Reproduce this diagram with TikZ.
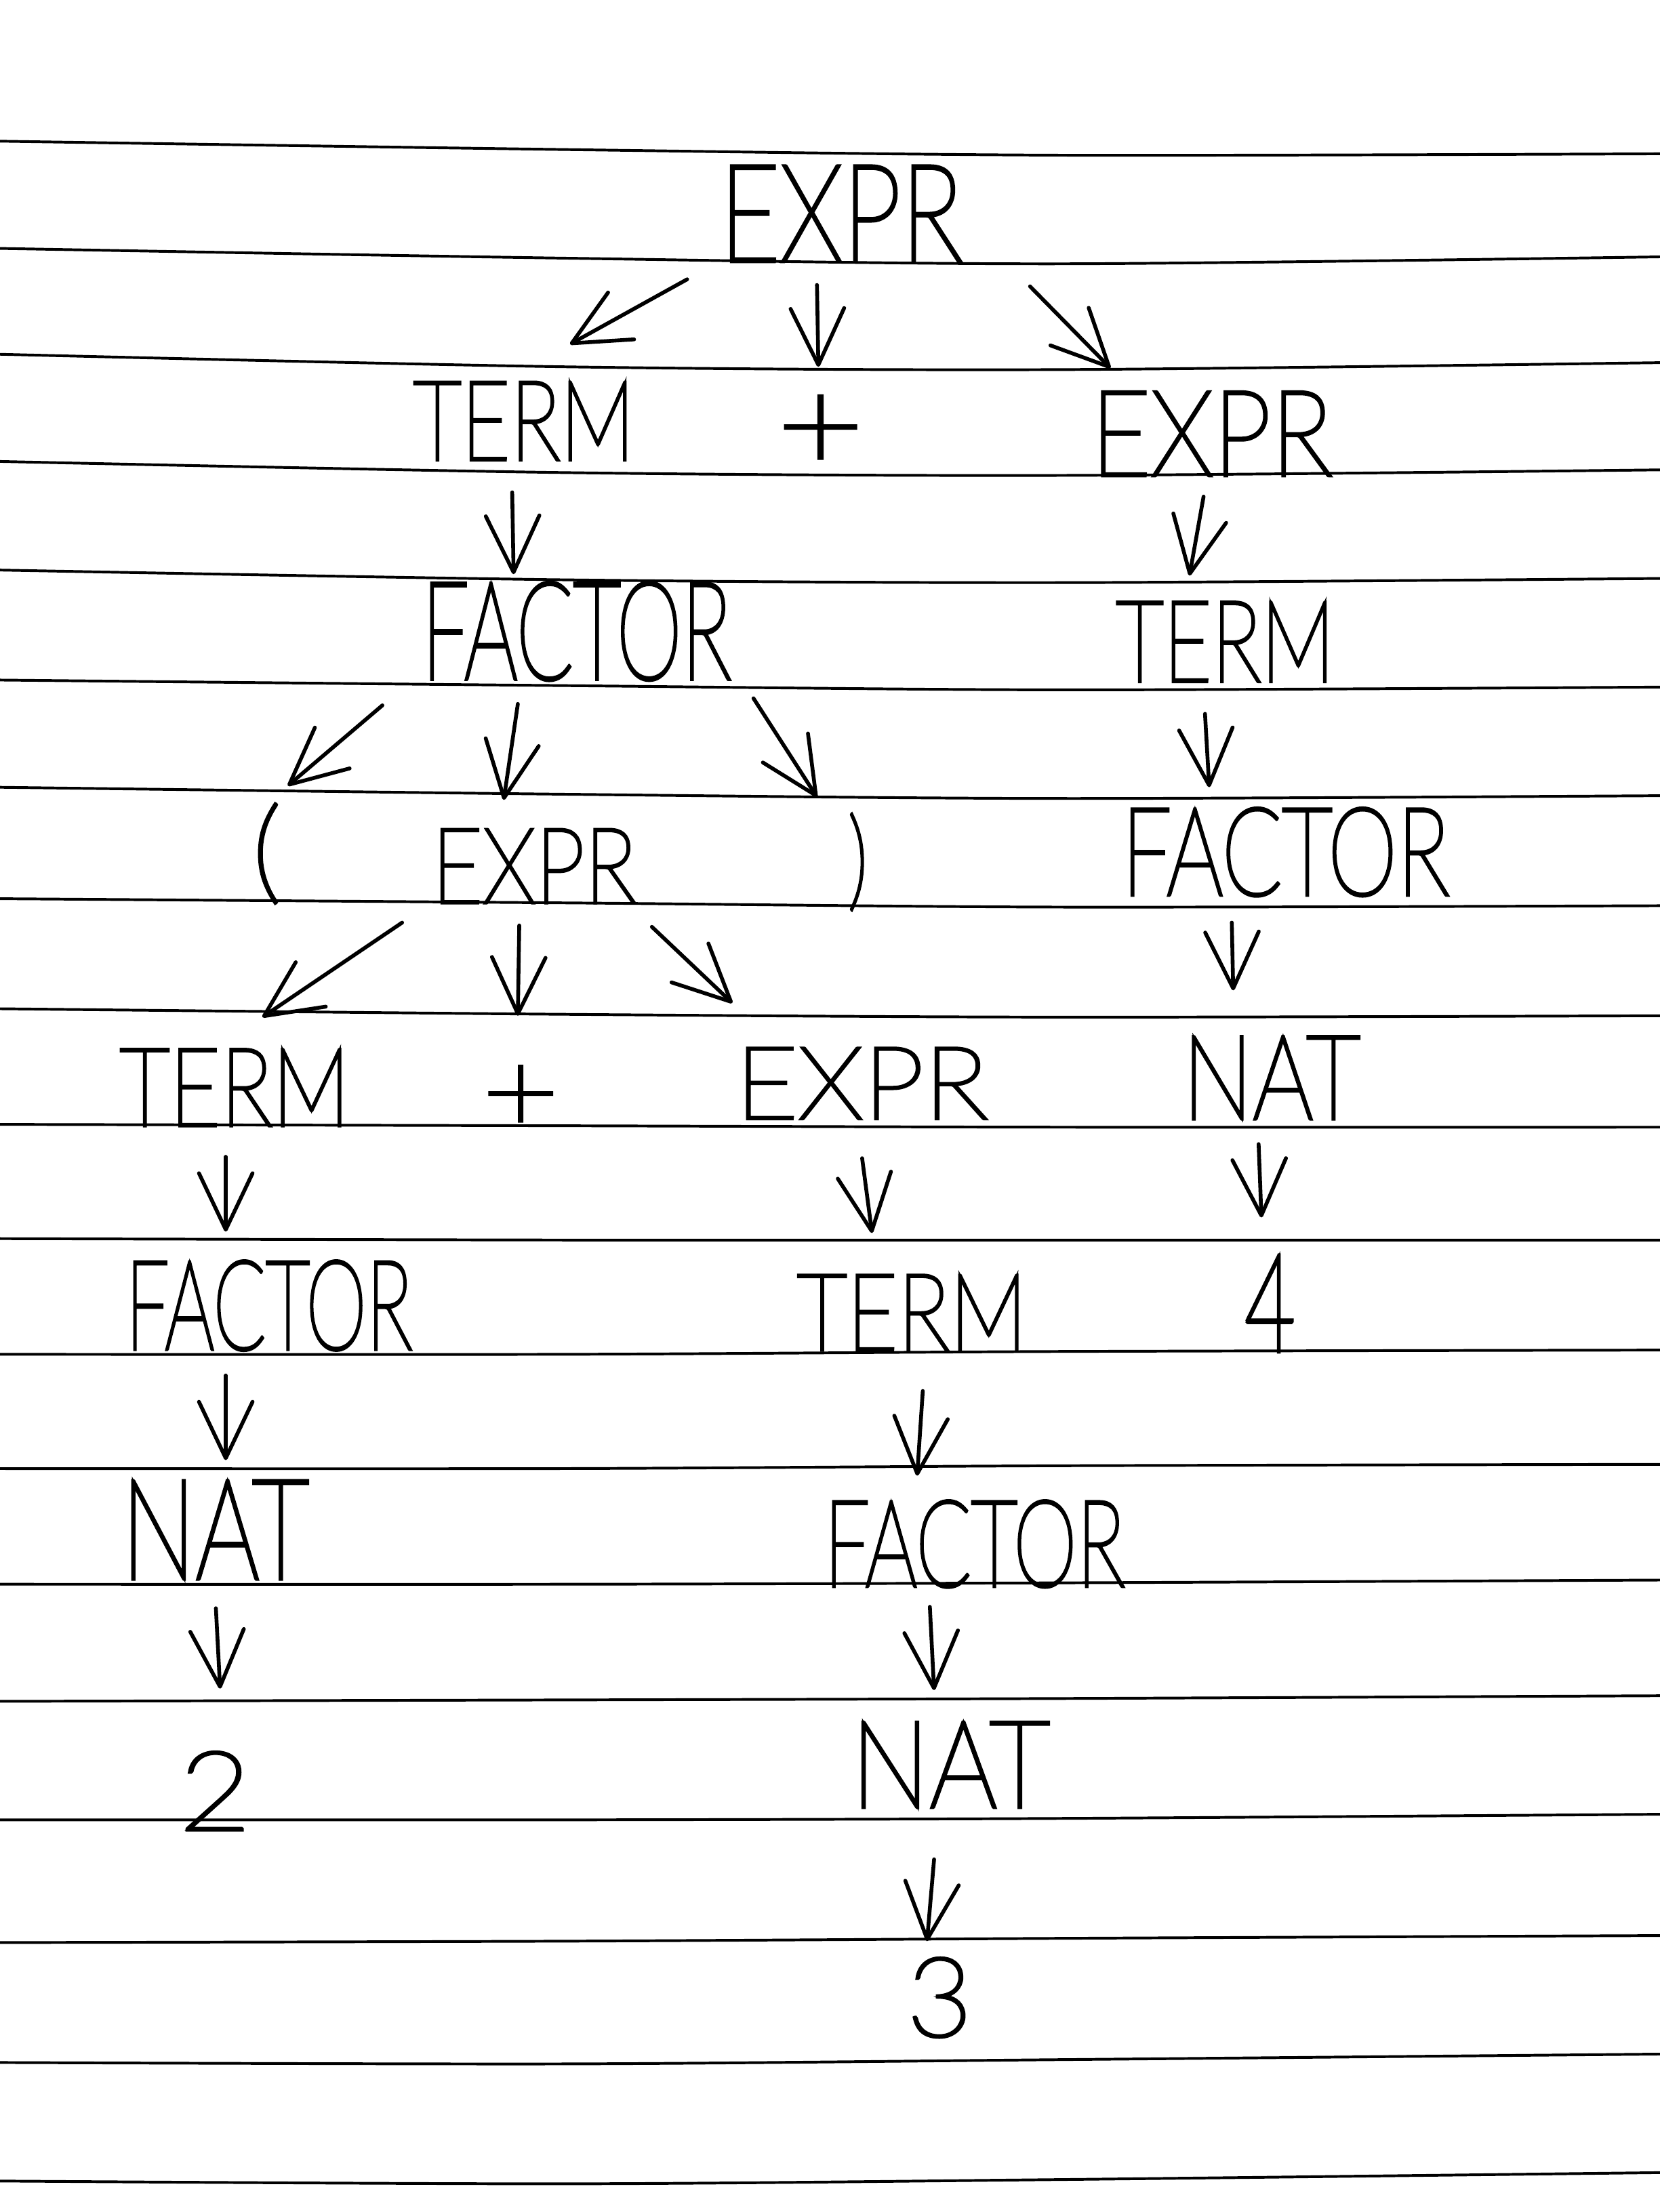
\documentclass[tikz,border=0pt]{standalone}
\usepackage{fontspec}
\usepackage{graphicx}
\usetikzlibrary{arrows.meta}
\IfFontExistsTF{Lato Thin}{\newfontfamily\hand{Lato Thin}[FakeBold=3.2]}{%
 \IfFontExistsTF{Lato Light}{\newfontfamily\hand{Lato Light}}{%
  \IfFontExistsTF{Fira Sans Light}{\newfontfamily\hand{Fira Sans Light}}{%
   \newfontfamily\hand{DejaVu Sans}}}}
\newcommand\fitw[3]{\resizebox*{#1pt}{#2pt}{#3}}
\newcommand\hconn[4]{\draw[harrow] ([shift={(#2)}]#1.center) -- ([shift={(#4)}]#3.center);}
\begin{document}
\begin{tikzpicture}[x=1pt,y=-1pt,
  rule/.style={line width=1.9pt, black},
  hw/.style={inner sep=0pt, outer sep=0pt, font=\hand\fontsize{72}{80}\selectfont},
  harrow/.style={line width=2.7pt, line cap=round, line join=round,
    -{Straight Barb[length=40pt,width=38pt,round]}}]
\useasboundingbox (0,0) rectangle (1176,1568);
\fill[white] (0,0) rectangle (1176,1568);

% ruled paper
\foreach \a/\b/\c/\d in {100/106/110/109, 176/183/187/182, 251/260/262/257,
  327/335/337/333, 404/411/413/410, 482/486/489/487, 558/563/566/564,
  637/640/643/642, 715/719/721/720, 797/798/799/799, 878/879/879/879,
  960/960/958/957, 1041/1041/1039/1038, 1123/1123/1122/1120,
  1206/1205/1204/1202, 1290/1290/1289/1286, 1377/1376/1374/1372,
  1462/1463/1460/1456, 1546/1548/1545/1540}
  \draw[rule] plot[smooth] coordinates {(-5,\a) (400,\b) (750,\c) (1181,\d)};

% words
\node[hw] (e0) at (596,151.5) {\fitw{172}{67}{EXPR}};
\node[hw] (t1) at (371.5,298.5) {\fitw{157}{55}{TERM}};
\node[hw] (plus1) at (581.5,307) {\fitw{61}{52}{+}};
\node[hw] (e1) at (858.5,307.5) {\fitw{171}{59}{EXPR}};
\node[hw] (f1) at (408.5,447.5) {\fitw{219}{69}{FACTOR}};
\node[hw] (t2) at (868.5,455) {\fitw{155}{56}{TERM}};
\node[hw] (lp) at (189,605) {\fitw{20}{70}{(}};
\node[hw] (e2) at (378.5,614) {\fitw{145}{52}{EXPR}};
\node[hw] (rp) at (608,611) {\fitw{14}{68}{)}};
\node[hw] (f2) at (911,604) {\fitw{232}{62}{FACTOR}};
\node[hw] (t3) at (166.5,771) {\fitw{163}{54}{TERM}};
\node[hw] (plus2) at (369,779) {\fitw{54}{46}{+}};
\node[hw] (e3) at (610.5,768) {\fitw{179}{50}{EXPR}};
\node[hw] (n1) at (901,764) {\fitw{126}{58}{NAT}};
\node[hw] (f3) at (190.5,925.5) {\fitw{203}{63}{FACTOR}};
\node[hw] (t4) at (646.5,930.5) {\fitw{163}{53}{TERM}};
\node[hw] (four) at (900,924) {\fitw{36}{68}{4}};
\node[hw] (n2) at (152.5,1084.5) {\fitw{133}{69}{NAT}};
\node[hw] (f4) at (690.5,1094.5) {\fitw{213}{61}{FACTOR}};
\node[hw] (two) at (152.5,1269.5) {\fitw{51}{55}{2}};
\node[hw] (n3) at (673.5,1251) {\fitw{141}{60}{NAT}};
\node[hw] (three) at (666,1416) {\fitw{46}{56}{3}};

% arrows
\hconn{e0}{-109,46.5}{t1}{32.5,-54.5}
\hconn{e0}{-17,50.5}{plus1}{-1.5,-47}
\hconn{e0}{134,51.5}{e1}{-71.5,-46.5}
\hconn{t1}{-8.5,50.5}{f1}{-44.5,-40.5}
\hconn{e1}{-5.5,44.5}{t2}{-25.5,-47}
\hconn{f1}{-137.5,52.5}{lp}{15,-48}
\hconn{f1}{-41.5,51.5}{e2}{-21.5,-47}
\hconn{f1}{125.5,47.5}{rp}{-29,-46}
\hconn{t2}{-14.5,51}{f2}{-54,-46}
\hconn{e2}{-93.5,40}{t3}{19.5,-50}
\hconn{e2}{-10.5,42}{plus2}{-2,-59}
\hconn{e2}{83.5,43}{e3}{-91.5,-57}
\hconn{f2}{-38,50}{n1}{-27,-62}
\hconn{t3}{-6.5,49}{f3}{-30.5,-52.5}
\hconn{e3}{0.5,53}{t4}{-28.5,-56.5}
\hconn{n1}{-9,47}{four}{-6,-61}
\hconn{f3}{-30.5,49.5}{n2}{7.5,-49.5}
\hconn{t4}{7.5,55.5}{f4}{-40.5,-48.5}
\hconn{n2}{0.5,55.5}{two}{3.5,-72.5}
\hconn{f4}{-31.5,44.5}{n3}{-11.5,-53}
\hconn{n3}{-11.5,67}{three}{-9,-40}
\end{tikzpicture}
\end{document}
